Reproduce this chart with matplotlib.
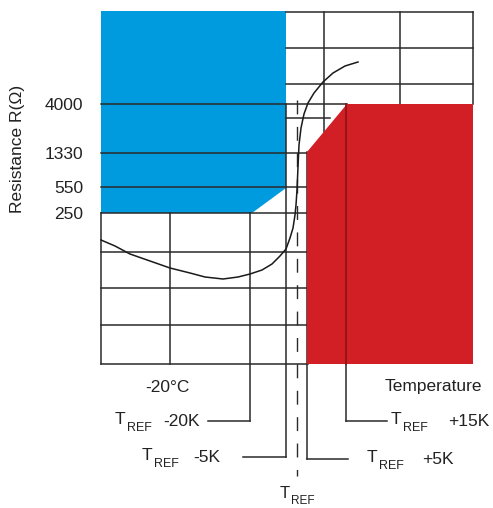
import matplotlib
matplotlib.use("Agg")
import matplotlib.pyplot as plt
from matplotlib.patches import Polygon

plt.rcParams['font.family'] = ['Liberation Sans', 'DejaVu Sans']

# resistance tick labels and where they sit on the (schematic) vertical scale
res_labels = ['4000', '1330', '550', '250']
res_pos = [104, 153, 187, 213]

# temperature marks below the chart (schematic horizontal positions)
temp_labels = ['-20K', '-5K', '', '+5K', '+15K']
temp_pos = [250, 286, 297, 307, 346]

# PTC resistance curve
curve_x = [101, 115, 130, 150, 170, 190, 205, 223, 238, 250, 262, 272, 280, 286,
           290, 293, 295, 296, 297, 298, 299, 301, 304, 308, 314, 323, 333, 345, 358]
curve_y = [240, 246, 254, 261, 268, 273, 277, 279, 277, 274, 270, 264, 256, 249,
           238, 228, 215, 205, 190, 167, 145, 128, 114, 103, 93, 82, 73, 66, 62]

BLUE = '#009BDE'
RED = '#D21F26'
DARKRED = '#8E1418'
GRID = '#2a2a2a'
TXT = '#222222'

fig = plt.figure(figsize=(4.93, 5.08), dpi=100)
ax = fig.add_axes([101 / 493, 144 / 508, 372 / 493, 352 / 508])
ax.set_xlim(101, 473)
ax.set_ylim(364, 12)
for s in ax.spines.values():
    s.set_visible(False)
ax.set_xticks([])

# coloured areas
ax.add_patch(Polygon([(101, 11), (286, 11), (286, 188), (252, 213), (101, 213)],
                     closed=True, facecolor=BLUE, edgecolor='none', zorder=1, clip_on=False))
ax.add_patch(Polygon([(307, 364), (307, 152), (347, 104), (473, 104), (473, 364)],
                     closed=True, facecolor=RED, edgecolor='none', zorder=3, clip_on=False))

# grid: horizontal lines (y, x from, x to)
hgrid = [(12, 286, 473), (48, 286, 473), (84, 286, 473), (104, 101, 347),
         (118, 286, 330), (153, 101, 308), (187, 101, 308), (213, 101, 308),
         (252, 101, 308), (288, 101, 308), (325, 101, 308), (364, 101, 308)]
for y, x0, x1 in hgrid:
    ax.plot([x0, x1], [y, y], color=GRID, lw=1.1, zorder=2, clip_on=False)

# grid: vertical lines (x, y from, y to)
vgrid = [(101, 213, 364), (170, 213, 364), (324, 12, 132), (400, 12, 104),
         (473, 12, 104)]
for x, y0, y1 in vgrid:
    ax.plot([x, x], [y0, y1], color=GRID, lw=1.1, zorder=2, clip_on=False)

# leader lines to the temperature marks
lead_y = [421, 457, 476, 459, 421]
lead_top = [213, 104, 100, 152, 104]
lead_end = [208, 243, None, 348, 387]
lead_text = [163, 193, None, 422, 448]
t_left = [115, 142, 280, 367, 391]
for lab, x, ly, top, xe, xt, tl in zip(temp_labels, temp_pos, lead_y, lead_top,
                                         lead_end, lead_text, t_left):
    if lab == '':
        # the reference temperature: dashed line
        ax.plot([x, x], [top, ly], color=GRID, lw=1.0, ls=(0, (10, 9)),
                zorder=2, clip_on=False)
        ax.text(tl, 494, 'T', fontsize=12, ha='left', va='center', color=TXT)
        ax.text(tl + 11, 501, 'REF', fontsize=8.5, ha='left', va='center', color=TXT)
        continue
    if x == 346:
        ax.plot([x, x], [top, 364], color=DARKRED, lw=1.3, zorder=4, clip_on=False)
        ax.plot([x, x], [364, ly], color=GRID, lw=1.1, zorder=2, clip_on=False)
    else:
        ax.plot([x, x], [top, ly], color=GRID, lw=1.1, zorder=2, clip_on=False)
    ax.plot([x, xe], [ly, ly], color=GRID, lw=1.1, zorder=2, clip_on=False)
    ax.text(tl, ly - 1, 'T', fontsize=12.5, ha='left', va='center', color=TXT)
    ax.text(tl + 12, ly + 7, 'REF', fontsize=9, ha='left', va='center', color=TXT)
    ax.text(xt, ly, lab, fontsize=12.5, ha='left', va='center', color=TXT)

# resistance curve
ax.plot(curve_x, curve_y, color='#1a1a1a', lw=1.1, zorder=5, clip_on=False)

# axis texts
ax.set_yticks(res_pos)
ax.set_yticklabels(res_labels, fontsize=12.5, color=TXT)
ax.tick_params(axis='y', length=0, pad=13)
ax.set_ylabel('Resistance R(\u03a9)', fontsize=12.5, color=TXT)
ax.yaxis.set_label_coords((25 - 101) / 372, (364 - 149) / 352)

ax.text(167, 388, '-20\u00b0C', fontsize=12.5, ha='center', va='center', color=TXT)
ax.text(433, 387, 'Temperature', fontsize=12.5, ha='center', va='center', color=TXT)

fig.savefig('out.png', dpi=100, facecolor='white')
